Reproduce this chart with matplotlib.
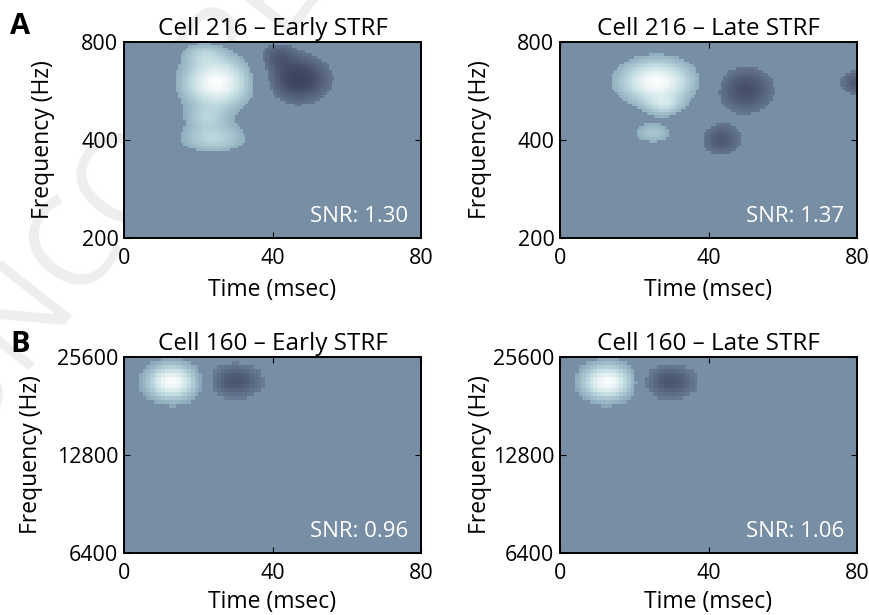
import numpy as np
import matplotlib
matplotlib.use("Agg")
import matplotlib.pyplot as plt
from matplotlib.colors import LinearSegmentedColormap, Normalize
from matplotlib.ticker import FixedLocator, FixedFormatter, NullLocator

plt.rcParams['font.family'] = ['Open Sans', 'DejaVu Sans']

# panel titles / labels
titles = ["Cell 216 \u2013 Early STRF", "Cell 216 \u2013 Late STRF",
          "Cell 160 \u2013 Early STRF", "Cell 160 \u2013 Late STRF"]
snr = ["SNR: 1.30", "SNR: 1.37", "SNR: 0.96", "SNR: 1.06"]
freq_ticks_a = [200, 400, 800]
freq_ticks_b = [6400, 12800, 25600]
time_ticks = [0, 40, 80]

# STRF subfields:
# (time ms, freq Hz, sigma time ms, sigma octaves, amplitude)
blobs_216_early = [(25, 600, 6.5, 0.19, 1.00),
                   (24, 405, 6.5, 0.11, 0.52),
                   (22, 470, 4.0, 0.08, 0.30),
                   (21, 740, 4.0, 0.08, 0.30),
                   (47, 615, 6.0, 0.17, -0.75),
                   (41, 730, 3.5, 0.10, -0.35)]
blobs_216_late = [(26, 605, 7.0, 0.16, 1.00),
                  (28, 510, 3.5, 0.07, 0.40),
                  (25, 420, 4.0, 0.08, 0.40),
                  (50, 570, 5.5, 0.17, -0.60),
                  (43.5, 400, 4.0, 0.12, -0.50),
                  (80, 600, 3.5, 0.10, -0.50)]
blobs_160_early = [(12.9, 21470, 4.8, 0.13, 1.00),
                   (30, 21600, 5.0, 0.12, -0.55)]
blobs_160_late = [(12.7, 21470, 4.8, 0.13, 1.00),
                  (29.6, 21470, 5.0, 0.12, -0.55)]

cmap = LinearSegmentedColormap.from_list(
    "strf", [(0.0, "#2a3149"), (0.2, "#454e69"), (0.5, "#778da5"),
             (0.62, "#93b0c0"), (0.8, "#c3dde2"), (1.0, "#fbfdfd")])
norm = Normalize(-1, 1)


def strf(blobs, fmin, fmax, nt, nf, thr):
    t_edges = np.linspace(0, 80, nt + 1)
    o_edges = np.linspace(np.log2(fmin), np.log2(fmax), nf + 1)
    tc = (t_edges[:-1] + t_edges[1:]) / 2
    oc = (o_edges[:-1] + o_edges[1:]) / 2
    T, O = np.meshgrid(tc, oc)
    z = np.zeros_like(T)
    for t0, f0, st, so, a in blobs:
        z += a * np.exp(-((T - t0) ** 2 / (2 * st ** 2) +
                          (O - np.log2(f0)) ** 2 / (2 * so ** 2)))
    z[np.abs(z) < thr] = 0
    return t_edges, 2 ** o_edges, z


fig = plt.figure(figsize=(8.69, 6.15), dpi=100)
W, H = 869, 615

# faint proof watermark behind the panels
fig.text(-10 / W, 1 - 470 / H, "UNCORRECTED PROOF", rotation=52, fontsize=90,
         color="#eeeeee", ha="left", va="bottom", zorder=-10,
         rotation_mode="anchor")

boxes = [(124, 42), (560, 42), (124, 357), (560, 357)]
ylab_x = [-0.232, -0.229, -0.273, -0.229]
xlab_y = [-0.205, -0.205, -0.19, -0.19]
panels = [(blobs_216_early, 200, 800, 120, 70, freq_ticks_a, 0.22),
          (blobs_216_late, 200, 800, 120, 70, freq_ticks_a, 0.22),
          (blobs_160_early, 6400, 25600, 80, 50, freq_ticks_b, 0.16),
          (blobs_160_late, 6400, 25600, 80, 50, freq_ticks_b, 0.16)]

for i, ((x0, y0), (blobs, fmin, fmax, nt, nf, fticks, thr)) in enumerate(zip(boxes, panels)):
    ax = fig.add_axes([x0 / W, 1 - (y0 + 196) / H, 297 / W, 196 / H])
    te, fe, z = strf(blobs, fmin, fmax, nt, nf, thr)
    ax.pcolormesh(te, fe, z, cmap=cmap, norm=norm, shading="flat")
    ax.set_yscale("log", base=2)
    ax.set_xlim(0, 80)
    ax.set_ylim(fmin, fmax)
    ax.yaxis.set_major_locator(FixedLocator(fticks))
    ax.yaxis.set_major_formatter(FixedFormatter([str(f) for f in fticks]))
    ax.yaxis.set_minor_locator(NullLocator())
    ax.set_xticks(time_ticks)
    ax.tick_params(direction="in", length=4, width=0.8, labelsize=15.5,
                   top=True, right=True)
    ax.tick_params(axis="x", pad=7)
    ax.tick_params(axis="y", pad=4)
    for s in ax.spines.values():
        s.set_linewidth(1.4)
    ax.set_title(titles[i], fontsize=17.5, pad=5)
    ax.set_xlabel("Time (msec)", fontsize=16.5)
    ax.xaxis.set_label_coords(0.5, xlab_y[i])
    ax.set_ylabel("Frequency (Hz)", fontsize=16.5)
    ax.yaxis.set_label_coords(ylab_x[i], 0.5)
    ax.text(0.957, 0.08, snr[i], transform=ax.transAxes, ha="right",
            va="baseline", color="white", fontsize=16)

fig.text(10 / W, 1 - 27 / H, "A", fontsize=21, fontweight="bold", va="center")
fig.text(10 / W, 1 - 344 / H, "B", fontsize=21, fontweight="bold", va="center")

fig.savefig("out.png", dpi=100)
